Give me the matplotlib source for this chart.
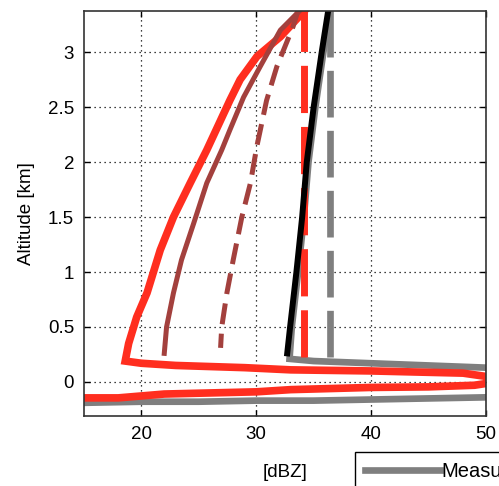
"""
Reflectivity profiles vs altitude (MATLAB-style figure).
"""

import matplotlib
matplotlib.use("Agg")
import matplotlib.pyplot as plt

plt.rcParams["font.family"] = ["Liberation Sans", "DejaVu Sans"]

# Measured profile (grey solid): vertical part, then ground loop off to the right.
meas_dbz = [36.45, 35.85, 35.15, 34.55, 34.15, 33.65, 33.1, 32.9, 35, 40, 45, 50, 53,
            50, 45, 40, 35, 30, 25, 20, 15, 12]
meas_alt = [3.40, 3.0, 2.5, 2.0, 1.5, 1.0, 0.5, 0.21, 0.19, 0.17, 0.15, 0.13, 0.0,
            -0.14, -0.15, -0.16, -0.17, -0.17, -0.18, -0.18, -0.19, -0.19]

# Measured, dashed (constant)
meas_d_dbz = [36.4, 36.4]
meas_d_alt = [0.23, 3.40]

# Model profile (bright red solid)
mod_dbz = [34.4, 32.1, 30.06, 28.6, 27.7, 25.7, 24.26, 22.8, 21.65, 20.5, 19.6,
           18.9, 18.6, 20, 23, 29, 33, 40, 48, 50, 51.5, 49, 45, 40, 33, 30, 22, 18, 15, 12]
mod_alt = [3.40, 3.14, 2.96, 2.75, 2.56, 2.11, 1.81, 1.50, 1.20, 0.81, 0.59,
           0.35, 0.19, 0.17, 0.15, 0.13, 0.11, 0.10, 0.08, 0.05, 0.01, -0.03, -0.045,
           -0.05, -0.07, -0.09, -0.11, -0.145, -0.145, -0.15]

# Model, dashed (constant)
mod_d_dbz = [34.2, 34.2]
mod_d_alt = [0.23, 3.40]

# Second model profile (dark red solid and dashed)
mod2_dbz = [34.0, 32.1, 30.35, 28.9, 27.7, 27.0, 25.7, 24.55, 23.5, 22.8, 22.2, 22.0]
mod2_alt = [3.40, 3.20, 2.87, 2.59, 2.29, 2.11, 1.81, 1.44, 1.11, 0.81, 0.50, 0.26]
mod2_d_dbz = [33.7, 33.2, 31.8, 30.9, 30.05, 29.5, 28.75, 28.0, 27.45, 27.0, 26.9]
mod2_d_alt = [3.40, 3.23, 2.87, 2.56, 2.14, 1.81, 1.50, 1.11, 0.81, 0.50, 0.31]

# Retrieved profile (black)
ret_dbz = [32.7, 32.95, 33.5, 34.0, 34.4, 35.0, 35.7, 36.3]
ret_alt = [0.26, 0.5, 1.0, 1.5, 2.0, 2.5, 3.0, 3.40]

RED = "#ff2e1f"
BROWN = "#a3403d"
GREY = "#7f7f7f"
FS = 13.5

fig = plt.figure(figsize=(4.99, 4.86), dpi=100)
ax = fig.add_axes([0.168, 0.144, 0.806, 0.833])

meas_line, = ax.plot(meas_dbz, meas_alt, color=GREY, lw=4.8, label="Measured",
                     solid_joinstyle="miter")
ax.plot(meas_d_dbz, meas_d_alt, color=GREY, lw=4.8, dashes=(7.0, 2.0))
ax.plot(mod_dbz, mod_alt, color=RED, lw=5.5, solid_joinstyle="miter")
ax.plot(mod_d_dbz, mod_d_alt, color=RED, lw=5.0, dashes=(6.8, 2.0))
ax.plot(mod2_dbz, mod2_alt, color=BROWN, lw=3.6)
ax.plot(mod2_d_dbz, mod2_d_alt, color=BROWN, lw=3.6, dashes=(4.2, 1.9))
ax.plot(ret_dbz, ret_alt, color="black", lw=4.3)

ax.set_xlim(15, 50)
ax.set_ylim(-0.31, 3.373)
ax.set_xticks([20, 30, 40, 50])
ax.set_yticks([0, 0.5, 1, 1.5, 2, 2.5, 3])
ax.set_yticklabels(["0", "0.5", "1", "1.5", "2", "2.5", "3"])
ax.grid(True, linestyle=(0, (1, 3)), color="black", lw=0.9)
ax.tick_params(direction="in", top=True, right=True, length=4, labelsize=FS,
               width=1.0, pad=7)
for s in ax.spines.values():
    s.set_linewidth(1.2)
    s.set_color("#333333")

ax.set_xlabel("[dBZ]", fontsize=FS, labelpad=15)
ax.set_ylabel("Altitude [km]", fontsize=FS, labelpad=9)

leg = fig.legend(handles=[meas_line], loc="upper left",
                 bbox_to_anchor=(355 / 499, 1 - 452 / 486), borderaxespad=0,
                 fontsize=14.5, handlelength=3.7, handletextpad=0.1, borderpad=0.5,
                 fancybox=False, edgecolor="black", framealpha=1)
leg.get_frame().set_linewidth(1.0)

fig.savefig("out.png", dpi=100)
